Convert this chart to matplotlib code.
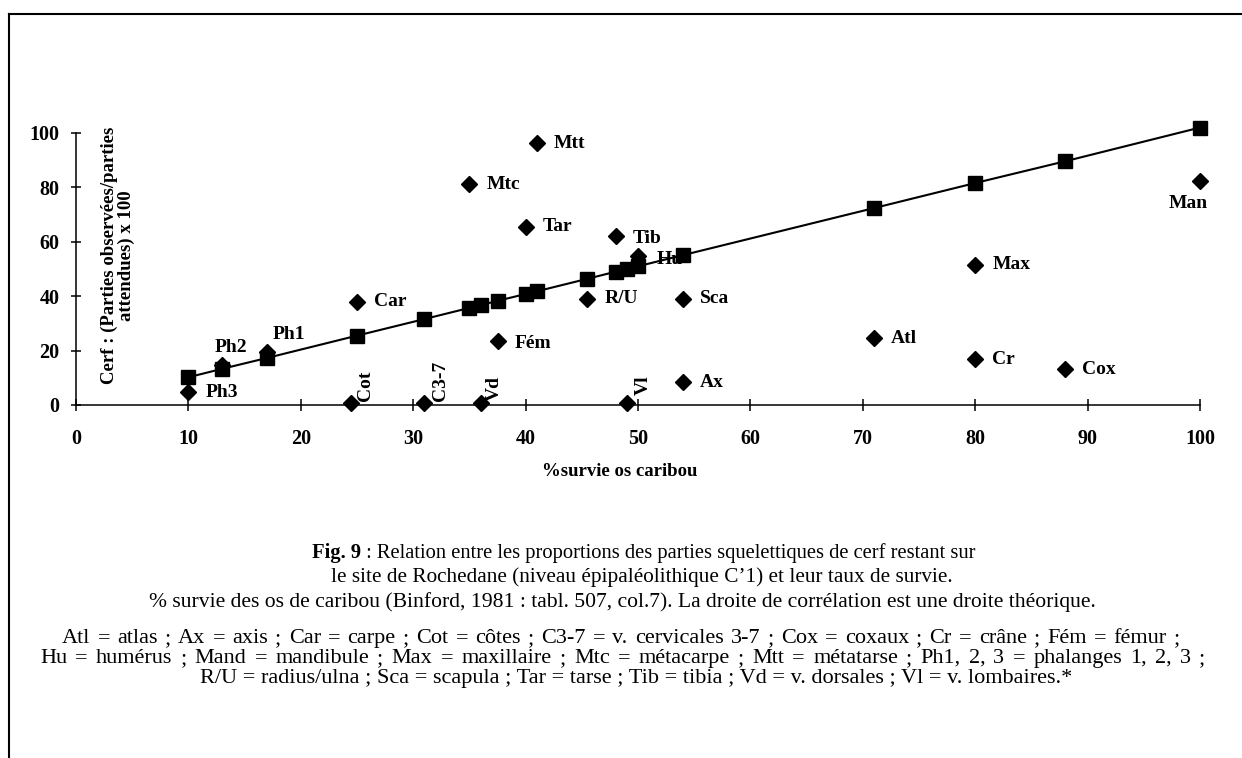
"""Rochedane Fig. 9: deer skeletal parts vs caribou bone survival."""

import matplotlib

matplotlib.use("Agg")
import matplotlib.pyplot as plt
from matplotlib.lines import Line2D

SERIF = ["Liberation Serif", "DejaVu Serif"]

# theoretical correlation line (squares)
line_x = [10, 13, 17, 25, 31, 35, 36, 37.5, 40, 41, 45.5, 48, 49, 50, 54, 71, 80, 88, 100]
line_y = [10.2, 13.3, 17.3, 25.5, 31.6, 35.7, 36.7, 38.3, 40.8, 41.8, 46.4, 49.0, 50.0,
          51.0, 55.1, 72.4, 81.6, 89.6, 102.0]

# observed skeletal parts (diamonds)
bone_names = ["Ph3", "Ph2", "Ph1", "Cot", "Car", "C3-7", "Mtc", "Vd", "Fém", "Tar", "Mtt",
              "R/U", "Tib", "Vl", "Hu", "Sca", "Ax", "Atl", "Max", "Cr", "Cox", "Man"]
bone_x = [10, 13, 17, 24.5, 25, 31, 35, 36, 37.5, 40, 41,
          45.5, 48, 49, 50, 54, 54, 71, 80, 80, 88, 100]
bone_y = [4.7, 14.7, 19.6, 0.6, 38.0, 0.7, 81.1, 0.6, 23.5, 65.6, 96.2,
          39.0, 62.1, 0.7, 54.8, 39.0, 8.3, 24.5, 51.5, 16.8, 13.1, 82.5]

x_ticks = [0, 10, 20, 30, 40, 50, 60, 70, 80, 90, 100]
y_ticks = [0, 20, 40, 60, 80, 100]

W, H = 1242, 758
PX = 0.72  # one pixel in points at dpi 100

# label placement: (dx px, dy px, kind)
label_style = {
    "Ph2": (9, 18, "center"),
    "Ph1": (22, 17, "center"),
    "Cot": (14, 2, "vert"),
    "C3-7": (16, 2, "vert"),
    "Vd": (14, 2, "vert"),
    "Vl": (17, 8, "vert"),
    "Man": (-12, -23, "center"),
    "Tib": (17, -2, "left"),
    "Hu": (19, -4, "left"),
    "Fém": (17, -2, "left"),
}

LEGEND_1 = ("Atl = atlas ; Ax = axis ; Car = carpe ; Cot = côtes ; C3-7 = v. cervicales 3-7 ; "
            "Cox = coxaux ; Cr = crâne ; Fém = fémur ;")
LEGEND_2 = ("Hu = humérus ; Mand = mandibule ; Max = maxillaire ; Mtc = métacarpe ; "
            "Mtt = métatarse ; Ph1, 2, 3 = phalanges 1, 2, 3 ;")
LEGEND_3 = ("R/U = radius/ulna ; Sca = scapula ; Tar = tarse ; Tib = tibia ; "
            "Vd = v. dorsales ; Vl = v. lombaires.*")


def justified(fig, text, x0, x1, y, size):
    """Spread the words of one line between x0 and x1 (pixels)."""
    renderer = fig.canvas.get_renderer()
    words = [fig.text(0, 1 - y / H, w, ha="left", va="baseline", fontsize=size, family=SERIF)
             for w in text.split(" ")]
    widths = [t.get_window_extent(renderer).width for t in words]
    gap = (x1 - x0 - sum(widths)) / (len(words) - 1)
    x = x0
    for t, w in zip(words, widths):
        t.set_x(x / W)
        x += w + gap


def main() -> None:
    fig = plt.figure(figsize=(W / 100, H / 100), dpi=100)
    ax = fig.add_axes([76 / W, 353 / H, 1124 / W, 272 / H])

    ax.plot(line_x, line_y, color="black", linewidth=1.5, marker="s", markersize=9.5,
            clip_on=False, zorder=3)
    ax.plot(bone_x, bone_y, linestyle="none", color="black", marker="D", markersize=8.5,
            clip_on=False, zorder=4)

    for name, x, y in zip(bone_names, bone_x, bone_y):
        dx, dy, kind = label_style.get(name, (17, 0, "left"))
        if kind == "vert":
            kw = dict(ha="center", va="bottom", rotation=90)
        elif kind == "center":
            kw = dict(ha="center", va="center")
        else:
            kw = dict(ha="left", va="center")
        ax.annotate(name, (x, y), xytext=(dx * PX, dy * PX), textcoords="offset points",
                    fontsize=14, fontweight="bold", family=SERIF, annotation_clip=False, **kw)

    ax.set_xlim(0, 100)
    ax.set_ylim(0, 100)
    ax.set_xticks(x_ticks)
    ax.set_yticks(y_ticks)
    for side in ("top", "right"):
        ax.spines[side].set_visible(False)
    for side in ("left", "bottom"):
        ax.spines[side].set_linewidth(1.1)
    ax.tick_params(axis="x", direction="inout", length=8.5, width=1.1, pad=13)
    ax.tick_params(axis="y", direction="inout", length=7.5, width=1.1, pad=8)
    for lab in ax.get_xticklabels() + ax.get_yticklabels():
        lab.set_fontfamily(SERIF)
        lab.set_fontweight("bold")
        lab.set_fontsize(14.5)

    # y title sits inside the plot area
    ax.text(0.037, 0.55, "Cerf : (Parties observées/parties\nattendues) x 100",
            transform=ax.transAxes, rotation=90, ha="center", va="center", fontsize=13.5,
            fontweight="bold", family=SERIF, linespacing=0.95)
    fig.text(620 / W, 1 - 472 / H, "%survie os caribou", ha="center", va="center",
             fontsize=13.5, fontweight="bold", family=SERIF)

    # caption, first line mixes bold and regular
    y1 = 1 - 558 / H
    bold = fig.text(0, y1, "Fig. 9", ha="left", va="baseline", fontsize=14.8,
                    fontweight="bold", family=SERIF)
    rest = fig.text(0, y1,
                    " : Relation entre les proportions des parties squelettiques de cerf restant sur",
                    ha="left", va="baseline", fontsize=14.8, family=SERIF)
    fig.canvas.draw()
    renderer = fig.canvas.get_renderer()
    wb = bold.get_window_extent(renderer).width
    wr = rest.get_window_extent(renderer).width
    left = 644 - (wb + wr) / 2
    bold.set_x(left / W)
    rest.set_x((left + wb) / W)

    caption_lines = [
        (642, 582, 15.3, "le site de Rochedane (niveau épipaléolithique C’1) et leur taux de survie."),
        (622, 607, 15.6, "% survie des os de caribou (Binford, 1981 : tabl. 507, col.7). "
                         "La droite de corrélation est une droite théorique."),
    ]
    for cx, cy, size, txt in caption_lines:
        fig.text(cx / W, 1 - cy / H, txt, ha="center", va="baseline", fontsize=size,
                 family=SERIF)

    # abbreviations paragraph: two justified lines, short last line
    justified(fig, LEGEND_1, 62, 1180, 643, 16)
    justified(fig, LEGEND_2, 40, 1205, 663, 16)
    fig.text(200 / W, 1 - 683 / H, LEGEND_3, ha="left", va="baseline", fontsize=16,
             family=SERIF)

    # scanned page frame
    fig.add_artist(Line2D([9 / W, 1], [1 - 14 / H] * 2, color="black", linewidth=1.5))
    fig.add_artist(Line2D([9 / W] * 2, [0, 1 - 14 / H], color="black", linewidth=1.5))

    fig.savefig("out.png", dpi=100, facecolor="white")
    plt.close(fig)


if __name__ == "__main__":
    main()
